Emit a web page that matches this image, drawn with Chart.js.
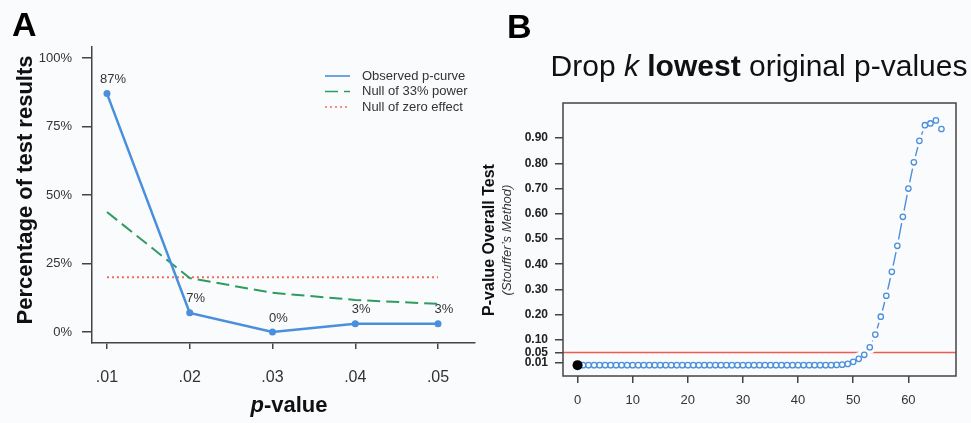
<!DOCTYPE html>
<html>
<head>
<meta charset="utf-8">
<script src="https://cdn.jsdelivr.net/npm/chart.js@4/dist/chart.umd.min.js"></script>
<style>
  html, body { margin: 0; padding: 0; background: #fafbfd; }
  #wrap { position: relative; width: 971px; height: 423px; }
  canvas { position: absolute; top: 0; }
  #chartA { left: 0; }
  #chartB { left: 480px; }
</style>
</head>
<body>
<div id="wrap">
  <canvas id="chartA" width="480" height="423"></canvas>
  <canvas id="chartB" width="491" height="423"></canvas>
</div>
<script>
// panel A: p-curve
var pLabels = ['.01', '.02', '.03', '.04', '.05'];
var pValues = [0.01, 0.02, 0.03, 0.04, 0.05];
var observedPct = [87, 7, 0, 3, 3];
var power33Pct = [43.8, 19.7, 14.3, 11.7, 10.3];
var zeroEffectPct = [20, 20, 20, 20, 20];
var pctTicks = [0, 25, 50, 75, 100];

// panel B: drop k lowest p-values
var kDropped = [0, 1, 2, 3, 4, 5, 6, 7, 8, 9, 10, 11, 12, 13, 14, 15, 16, 17, 18, 19,
                20, 21, 22, 23, 24, 25, 26, 27, 28, 29, 30, 31, 32, 33, 34, 35, 36, 37, 38, 39,
                40, 41, 42, 43, 44, 45, 46, 47, 48, 49, 50, 51, 52, 53, 54, 55, 56, 57, 58, 59,
                60, 61, 62, 63, 64, 65, 66];
var stoufferP = [0, 0, 0, 0, 0, 0, 0, 0, 0, 0, 0, 0, 0, 0, 0, 0, 0, 0, 0, 0,
                 0, 0, 0, 0, 0, 0, 0, 0, 0, 0, 0, 0, 0, 0, 0, 0, 0, 0, 0, 0,
                 0, 0, 0, 0, 0, 0, 0, 0.001, 0.002, 0.005, 0.013, 0.025, 0.041, 0.071, 0.121, 0.192, 0.275, 0.370, 0.473, 0.588,
                 0.700, 0.804, 0.889, 0.951, 0.958, 0.970, 0.936];
var originalK = [0];
var originalP = [0];
var pTicksB = [0.01, 0.05, 0.10, 0.20, 0.30, 0.40, 0.50, 0.60, 0.70, 0.80, 0.90];
var kTicksB = [0, 10, 20, 30, 40, 50, 60];
var cutoffP = 0.05;

var FONT = '"Liberation Sans", Arial, Helvetica, sans-serif';
var BG = '#fafbfd';
var BLUE = '#4a8fdb';
var AXIS = '#444';

Chart.defaults.font.family = FONT;
Chart.defaults.color = '#333';

function pts(xs, ys) {
    return xs.map(function(x, i) { return {x: x, y: ys[i]}; });
}

//extra drawing for panel A: legend, value labels, axis titles
var decorA = {
    id: 'decorA',
    afterDraw: function(chart) {
        var ctx = chart.ctx;
        var xs = chart.scales.x, ys = chart.scales.y;
        ctx.save();

        // labels over observed points
        ctx.fillStyle = '#333';
        ctx.font = '13px ' + FONT;
        ctx.textAlign = 'center';
        ctx.textBaseline = 'middle';
        observedPct.forEach(function(v, i) {
            ctx.fillText(v + '%', xs.getPixelForValue(pValues[i]) + 6, ys.getPixelForValue(v) - 14);
        });

        // legend
        ctx.font = '13px ' + FONT;
        ctx.textAlign = 'left';
        chart.data.datasets.forEach(function(ds, i) {
            var y = 76 + i * 15.5;
            ctx.beginPath();
            ctx.strokeStyle = ds.borderColor;
            ctx.lineWidth = 1.6;
            ctx.setLineDash(ds.borderDash || []);
            ctx.moveTo(325, y);
            ctx.lineTo(350, y);
            ctx.stroke();
            ctx.setLineDash([]);
            ctx.fillStyle = '#333';
            ctx.fillText(ds.label, 362, y);
        });

        // y title
        ctx.fillStyle = '#111';
        ctx.font = 'bold 22px ' + FONT;
        ctx.save();
        ctx.translate(26, 190);
        ctx.rotate(-Math.PI / 2);
        ctx.textAlign = 'center';
        ctx.fillText('Percentage of test results', 0, 0);
        ctx.restore();

        // x title with italic p
        var f1 = 'italic bold 22px ' + FONT, f2 = 'bold 22px ' + FONT;
        ctx.font = f1; var w1 = ctx.measureText('p').width;
        ctx.font = f2; var w2 = ctx.measureText('-value').width;
        var x0 = 289 - (w1 + w2) / 2;
        ctx.textAlign = 'left';
        ctx.font = f1; ctx.fillText('p', x0, 406);
        ctx.font = f2; ctx.fillText('-value', x0 + w1, 406);

        // panel letter
        ctx.font = 'bold 34px ' + FONT;
        ctx.fillStyle = '#000';
        ctx.fillText('A', 12, 27);
        ctx.restore();
    }
};

new Chart(document.getElementById('chartA'), {
    type: 'line',
    data: {
        datasets: [{
            label: 'Observed p-curve',
            data: pts(pValues, observedPct),
            borderColor: BLUE,
            backgroundColor: BLUE,
            borderWidth: 2.5,
            pointRadius: 3.5,
            pointBorderWidth: 0,
            order: 1
        }, {
            label: 'Null of 33% power',
            data: pts(pValues, power33Pct),
            borderColor: '#2f9c5f',
            borderWidth: 2,
            borderDash: [13, 6],
            pointRadius: 0,
            order: 2
        }, {
            label: 'Null of zero effect',
            data: pts(pValues, zeroEffectPct),
            borderColor: '#f26b5b',
            borderWidth: 2,
            borderDash: [2, 3],
            pointRadius: 0,
            order: 3
        }]
    },
    options: {
        responsive: false,
        animation: false,
        devicePixelRatio: 1,
        layout: { padding: { top: 47, right: 5, left: 0, bottom: 0 } },
        plugins: { legend: { display: false }, tooltip: { enabled: false } },
        scales: {
            x: {
                type: 'linear',
                min: 0.00819,
                max: 0.05447,
                afterBuildTicks: function(s) { s.ticks = pValues.map(function(v) { return {value: v}; }); },
                afterFit: function(s) { s.height = 80; },
                ticks: {
                    autoSkip: false, maxRotation: 0, padding: 19, color: '#333',
                    font: { size: 16 },
                    callback: function(v) { return pLabels[pValues.indexOf(v)]; }
                },
                grid: { drawOnChartArea: false, drawTicks: true, tickLength: 6, color: AXIS, lineWidth: 1.5 },
                border: { display: true, color: AXIS, width: 1.5 }
            },
            y: {
                min: -4,
                max: 104,
                afterBuildTicks: function(s) { s.ticks = pctTicks.map(function(v) { return {value: v}; }); },
                afterFit: function(s) { s.width = 92; },
                ticks: {
                    padding: 10, color: '#333', font: { size: 13 },
                    callback: function(v) { return v + '%'; }
                },
                grid: { drawOnChartArea: false, drawTicks: true, tickLength: 10, color: AXIS, lineWidth: 1.5 },
                border: { display: true, color: AXIS, width: 1.5 }
            }
        }
    },
    plugins: [decorA]
});

//extra drawing for panel B: box, cutoff line, titles
var decorB = {
    id: 'decorB',
    beforeDatasetsDraw: function(chart) {
        var ctx = chart.ctx, a = chart.chartArea;
        var y = chart.scales.y.getPixelForValue(cutoffP);
        ctx.save();
        ctx.strokeStyle = '#f05a4f';
        ctx.lineWidth = 1.6;
        ctx.beginPath();
        ctx.moveTo(a.left, y);
        ctx.lineTo(a.right, y);
        ctx.stroke();
        ctx.restore();
    },
    afterDraw: function(chart) {
        var ctx = chart.ctx, a = chart.chartArea;
        ctx.save();
        ctx.strokeStyle = AXIS;
        ctx.lineWidth = 1.5;
        ctx.strokeRect(a.left, a.top, a.right - a.left, a.bottom - a.top);

        // main title with mixed styles
        var parts = [
            ['Drop ', ''], ['k', 'italic '], [' ', ''], ['lowest', 'bold '], [' original p-values', '']
        ];
        var total = 0;
        parts.forEach(function(p) {
            ctx.font = p[1] + '30px ' + FONT;
            p.push(ctx.measureText(p[0]).width);
            total += p[2];
        });
        var x = 279 - total / 2;
        ctx.fillStyle = '#111';
        ctx.textBaseline = 'alphabetic';
        ctx.textAlign = 'left';
        parts.forEach(function(p) {
            ctx.font = p[1] + '30px ' + FONT;
            ctx.fillText(p[0], x, 76);
            x += p[2];
        });

        // y titles
        ctx.save();
        ctx.translate(10, 240);
        ctx.rotate(-Math.PI / 2);
        ctx.textAlign = 'center';
        ctx.textBaseline = 'middle';
        ctx.font = 'bold 16px ' + FONT;
        ctx.fillText('P-value Overall Test', 0, 0);
        ctx.font = 'italic 13px ' + FONT;
        ctx.fillStyle = '#333';
        ctx.fillText('(Stouffer\u2019s Method)', 0, 17);
        ctx.restore();

        // panel letter
        ctx.font = 'bold 34px ' + FONT;
        ctx.fillStyle = '#000';
        ctx.fillText('B', 27, 38);
        ctx.restore();
    }
};

new Chart(document.getElementById('chartB'), {
    type: 'line',
    data: {
        datasets: [{
            // black original point
            data: pts(originalK, originalP),
            showLine: false,
            pointRadius: 5,
            pointBackgroundColor: '#000',
            pointBorderWidth: 0,
            order: 0
        }, {
            // open circles
            data: pts(kDropped, stoufferP),
            showLine: false,
            pointRadius: 2.7,
            pointBorderWidth: 1.3,
            pointBorderColor: BLUE,
            pointBackgroundColor: BG,
            order: 1
        }, {
            // gap mask round each point (R type "b")
            data: pts(kDropped, stoufferP),
            showLine: false,
            pointRadius: 6.5,
            pointBorderWidth: 0,
            pointBackgroundColor: BG,
            order: 2
        }, {
            // connecting line
            data: pts(kDropped, stoufferP),
            borderColor: BLUE,
            borderWidth: 1.4,
            pointRadius: 0,
            order: 3
        }]
    },
    options: {
        responsive: false,
        animation: false,
        devicePixelRatio: 1,
        clip: false,
        layout: { padding: { top: 103, right: 15, left: 0, bottom: 0 } },
        plugins: { legend: { display: false }, tooltip: { enabled: false } },
        scales: {
            x: {
                type: 'linear',
                min: -2.64,
                max: 68.64,
                afterBuildTicks: function(s) { s.ticks = kTicksB.map(function(v) { return {value: v}; }); },
                afterFit: function(s) { s.height = 47; },
                ticks: { autoSkip: false, maxRotation: 0, padding: 10, color: '#333', font: { size: 13 } },
                grid: { drawOnChartArea: false, drawTicks: true, tickLength: 7, color: AXIS, lineWidth: 1.5 },
                border: { display: false }
            },
            y: {
                min: -0.043,
                max: 1.039,
                afterBuildTicks: function(s) { s.ticks = pTicksB.map(function(v) { return {value: v}; }); },
                afterFit: function(s) { s.width = 83; },
                ticks: {
                    autoSkip: false, padding: 7, color: '#222', font: { size: 12, weight: 'bold' },
                    callback: function(v) { return v.toFixed(2); }
                },
                grid: { drawOnChartArea: false, drawTicks: true, tickLength: 8, color: AXIS, lineWidth: 1.5 },
                border: { display: false }
            }
        }
    },
    plugins: [decorB]
});
</script>
</body>
</html>
